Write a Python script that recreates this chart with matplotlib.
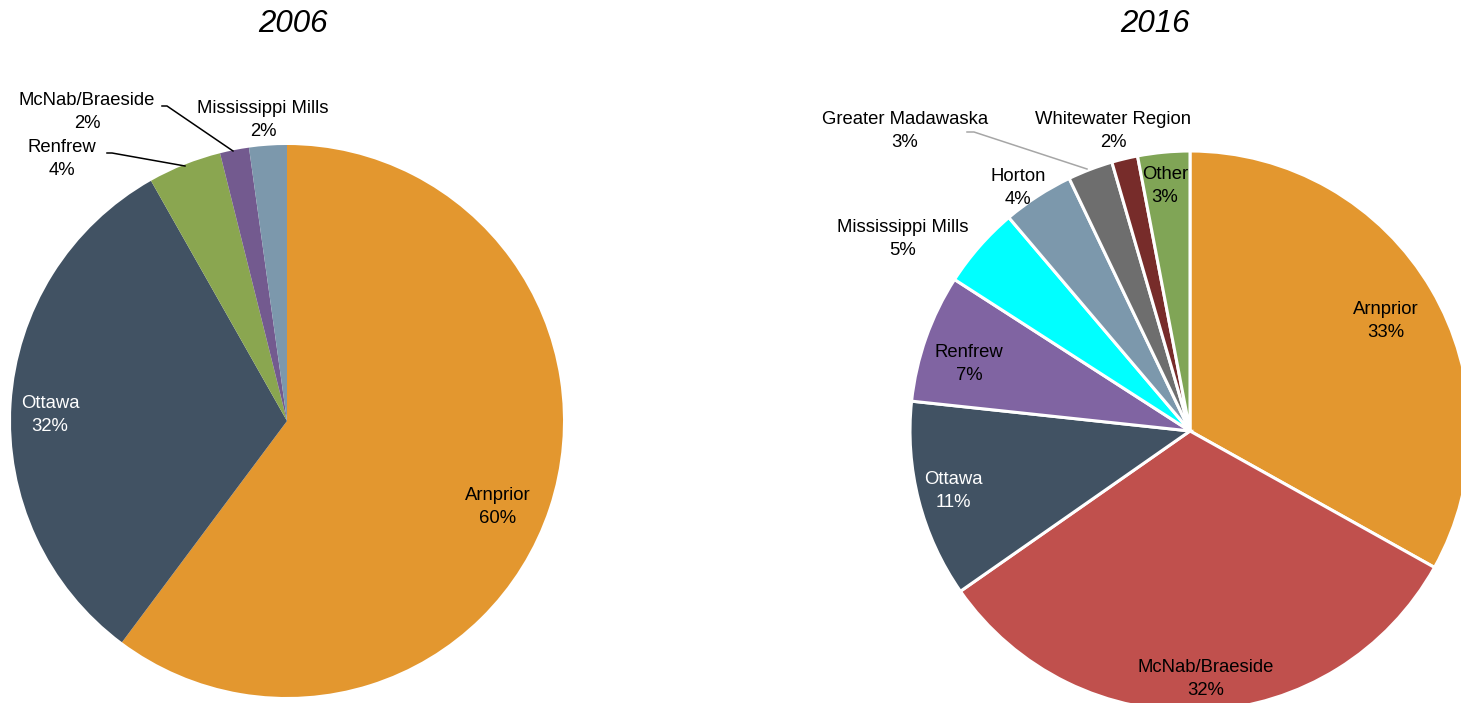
import matplotlib
matplotlib.use("Agg")
import matplotlib.pyplot as plt

# ---- data ----
cats_2006 = ["Arnprior", "Ottawa", "Renfrew", "McNab/Braeside", "Mississippi Mills"]
vals_2006 = [60.2, 31.6, 4.3, 1.7, 2.2]
cols_2006 = ["#E3972F", "#415263", "#8AA650", "#735A8F", "#7C98AC"]

cats_2016 = ["Arnprior", "McNab/Braeside", "Ottawa", "Renfrew", "Mississippi Mills",
             "Horton", "Greater Madawaska", "Whitewater Region", "Other"]
vals_2016 = [33.1, 32.2, 11.4, 7.4, 4.7, 4.1, 2.6, 1.5, 3.0]
cols_2016 = ["#E3972F", "#C0504D", "#415263", "#8064A2", "#00FFFF",
             "#7C98AC", "#6E6E6E", "#772C2A", "#80A556"]

titles = ["2006", "2016"]

# ---- layout (pixel coordinates, y measured from top) ----
W, H = 1461, 703
fig = plt.figure(figsize=(W / 100, H / 100), dpi=100)
ax = fig.add_axes([0, 0, 1, 1])

def Y(py):
    return H - py

font = ["Liberation Sans", "DejaVu Sans"]
fs = 13.3

# 2006 pie
ax.pie(vals_2006, colors=cols_2006, startangle=90, counterclock=False,
       center=(287, Y(421)), radius=276, frame=True,
       wedgeprops=dict(linewidth=0))
# 2016 pie
ax.pie(vals_2016, colors=cols_2016, startangle=90, counterclock=False,
       center=(1190, Y(431)), radius=280, frame=True,
       wedgeprops=dict(linewidth=2.2, edgecolor="white"))
ax.set_xlim(0, W)
ax.set_ylim(0, H)
ax.set_aspect("equal")
ax.axis("off")

# label positions (pixel coordinates) and text colours
pos_2006 = [(498, 507), (50, 415), (62, 159), (87, 112), (263, 120)]
tc_2006 = ["black", "white", "black", "black", "black"]
pos_2016 = [(1386, 321), (1206, 679), (953, 491), (969, 364), (903, 239),
            (1018, 188), (905, 131), (1113, 131), (1165, 186)]
tc_2016 = ["black", "black", "white", "black", "black",
           "black", "black", "black", "black"]

for cats, vals, pos, tcs in [(cats_2006, vals_2006, pos_2006, tc_2006),
                             (cats_2016, vals_2016, pos_2016, tc_2016)]:
    for c, v, (px, py), tc in zip(cats, vals, pos, tcs):
        ax.text(px, Y(py), f"{c}\n{round(v):d}%", ha="center", va="center",
                color=tc, fontsize=fs, family=font, linespacing=1.45)

# leader lines
ax.plot([107, 112, 185], [Y(153), Y(153), Y(166)], color="black", lw=1.1)
ax.plot([162, 167, 233], [Y(106), Y(106), Y(151)], color="black", lw=1.1)
ax.plot([967, 974, 1087], [Y(132), Y(132), Y(169)], color="#A6A6A6", lw=1.1)

# titles
ax.text(293, Y(24), titles[0], ha="center", va="center", fontsize=22.5,
        style="italic", family=font)
ax.text(1155, Y(24), titles[1], ha="center", va="center", fontsize=22.5,
        style="italic", family=font)

fig.savefig("out.png", dpi=100)
